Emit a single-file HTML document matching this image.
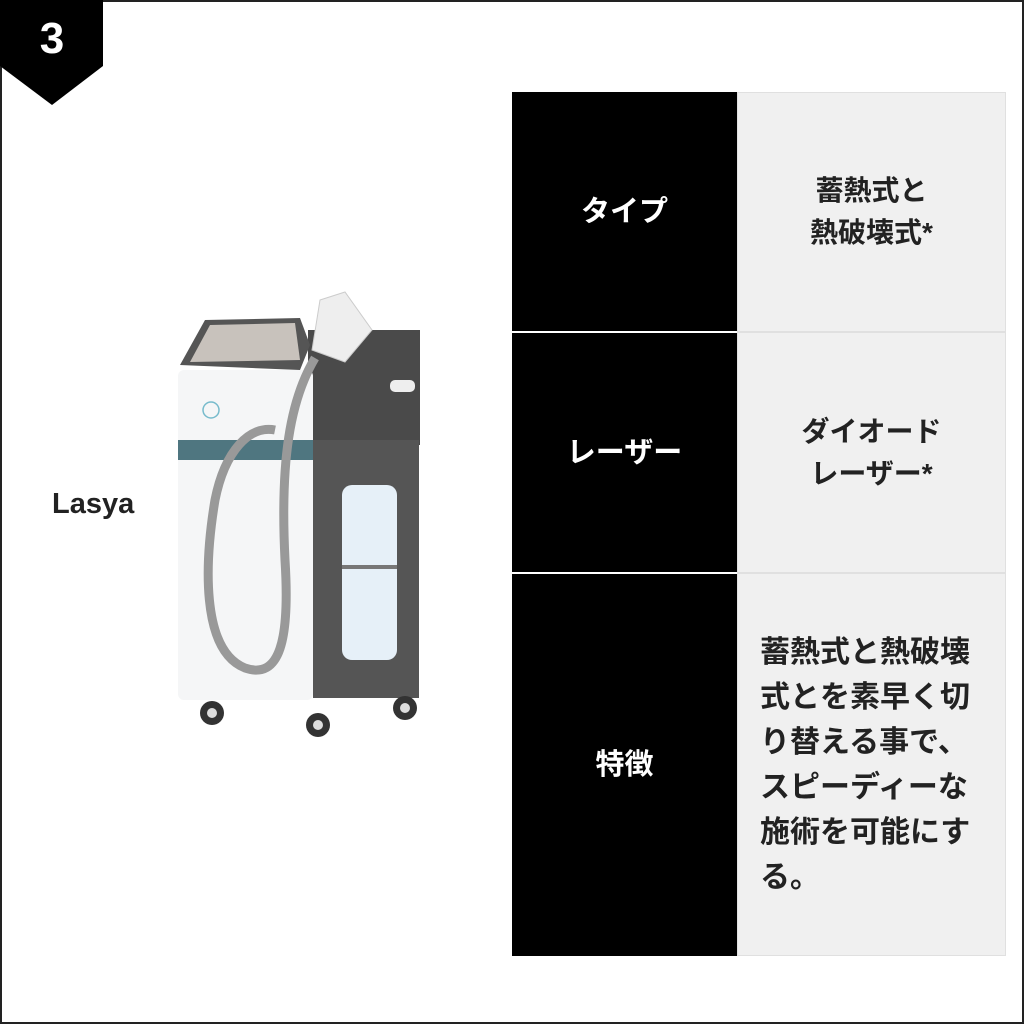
<!DOCTYPE html>
<html><head><meta charset="utf-8"><style>
*{margin:0;padding:0;box-sizing:border-box}
body{width:1024px;height:1024px;background:#fff;position:relative;overflow:hidden;font-family:"Liberation Sans","Noto Sans CJK JP",sans-serif}
.frame{position:absolute;left:0;top:0;width:1024px;height:1024px;border:2px solid #222}
.cell{position:absolute;display:flex;align-items:center;justify-content:center;text-align:center;font-weight:bold;font-size:28px;line-height:42px}
.k{background:#000;color:#fff;left:512px;width:225px;font-size:29px}
.v{background:#f0f0f0;color:#222;left:737px;width:269px;border:1px solid #e0e0e0}
</style></head><body>
<div class="frame"></div>
<svg style="position:absolute;left:0;top:0" width="110" height="110"><polygon points="0,0 103,0 103,66 52,105 0,66" fill="#000"/><text x="52" y="53" text-anchor="middle" fill="#fff" font-family="Liberation Sans" font-weight="bold" font-size="44">3</text></svg>
<div style="position:absolute;left:52px;top:488px;font-weight:bold;font-size:29px;color:#222">Lasya</div>
<svg style="position:absolute;left:0;top:0" width="512" height="800">
<rect x="308" y="330" width="112" height="115" fill="#4a4a4a"/>
<rect x="313" y="440" width="106" height="258" fill="#555"/>
<rect x="342" y="485" width="55" height="175" rx="10" fill="#e6f0f8"/>
<rect x="342" y="565" width="55" height="4" fill="#777"/>
<rect x="178" y="370" width="135" height="330" rx="6" fill="#f5f6f7"/>
<rect x="178" y="440" width="135" height="20" fill="#4f7680"/>
<polygon points="180,365 205,320 300,318 310,345 300,370" fill="#555"/>
<polygon points="190,362 210,325 295,323 300,360" fill="#c8c2bc"/>
<circle cx="211" cy="410" r="8" fill="none" stroke="#7bc" stroke-width="1.5"/>
<path d="M315,358 C290,400 280,460 285,560 C290,640 280,680 245,668 C200,650 205,560 215,500 C225,450 250,425 275,430" fill="none" stroke="#999" stroke-width="9"/>
<polygon points="320,300 345,292 372,330 345,362 312,350" fill="#eee" stroke="#ccc"/>
<rect x="390" y="380" width="25" height="12" rx="5" fill="#eee"/>
<g fill="#333"><circle cx="212" cy="713" r="12"/><circle cx="318" cy="725" r="12"/><circle cx="405" cy="708" r="12"/></g>
<g fill="#ddd"><circle cx="212" cy="713" r="5"/><circle cx="318" cy="725" r="5"/><circle cx="405" cy="708" r="5"/></g>
</svg>
<div class="cell k" style="top:92px;height:239px">タイプ</div>
<div class="cell k" style="top:333px;height:239px">レーザー</div>
<div class="cell k" style="top:574px;height:382px">特徴</div>
<div class="cell v" style="top:92px;height:240px">蓄熱式と<br>熱破壊式*</div>
<div class="cell v" style="top:332px;height:241px">ダイオード<br>レーザー*</div>
<div class="cell v" style="top:573px;height:383px;justify-content:flex-start;padding-left:22px;text-align:left;line-height:45px;font-size:30px"><div>蓄熱式と熱破壊<br>式とを素早く切<br>り替える事で、<br>スピーディーな<br>施術を可能にす<br>る。</div></div>
</body></html>
